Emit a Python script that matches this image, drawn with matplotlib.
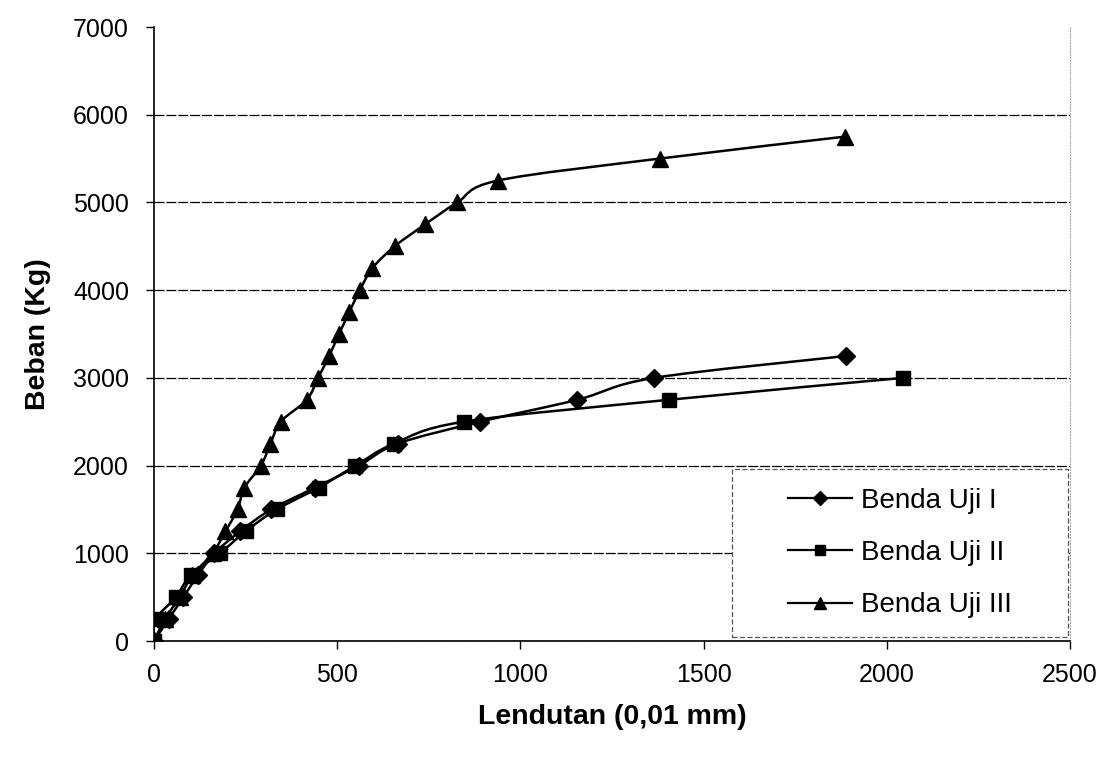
import matplotlib

matplotlib.use("Agg")
import matplotlib.pyplot as plt
import numpy as np
from matplotlib.lines import Line2D
from matplotlib.patches import PathPatch, Rectangle
from matplotlib.path import Path

plt.rcParams["font.family"] = ["Liberation Sans", "DejaVu Sans"]

# Benda Uji I (diamonds)
x1 = [0, 40, 80, 120, 165, 235, 320, 440, 560, 665, 890, 1155, 1365, 1890]
y1 = [0, 250, 500, 750, 1000, 1250, 1500, 1750, 2000, 2250, 2500, 2750, 3000, 3250]
# Benda Uji II (squares)
x2 = [0, 5, 60, 100, 180, 250, 335, 450, 550, 655, 845, 1405, 2045]
y2 = [0, 250, 500, 750, 1000, 1250, 1500, 1750, 2000, 2250, 2500, 2750, 3000]
# Benda Uji III (triangles)
x3 = [0, 30, 70, 105, 160, 195, 228, 247, 292, 318, 346, 417, 448, 478, 505,
      533, 562, 596, 657, 740, 828, 939, 1380, 1885]
y3 = [0, 250, 500, 750, 1000, 1250, 1500, 1750, 2000, 2250, 2500, 2750, 3000,
      3250, 3500, 3750, 4000, 4250, 4500, 4750, 5000, 5250, 5500, 5750]

labels = ["Benda Uji I", "Benda Uji II", "Benda Uji III"]
markers = ["D", "s", "^"]
msizes = [9, 10, 11]


def smooth_path(xs, ys):
    # Excel-style smoothed line: Catmull-Rom turned into cubic Bezier segments
    p = np.column_stack([xs, ys]).astype(float)
    ext = np.vstack([p[0], p, p[-1]])
    verts = [p[0]]
    codes = [Path.MOVETO]
    for i in range(len(p) - 1):
        p0, p1, p2, p3 = ext[i], ext[i + 1], ext[i + 2], ext[i + 3]
        verts += [p1 + (p2 - p0) / 6, p2 - (p3 - p1) / 6, p2]
        codes += [Path.CURVE4] * 3
    return Path(verts, codes)


fig = plt.figure(figsize=(11.11, 7.57), dpi=100)
ax = fig.add_axes([0.1386, 0.1532, 0.8244, 0.8111])

handles = []
for xs, ys, m, ms, lab in zip([x1, x2, x3], [y1, y2, y3], markers, msizes, labels):
    ax.add_patch(PathPatch(smooth_path(xs, ys), fill=False, edgecolor="black",
                           lw=1.8, zorder=3))
    ax.plot(xs, ys, ls="none", marker=m, ms=ms, color="black", zorder=4)
    handles.append(Line2D([], [], color="black", lw=1.6, marker=m, ms=ms * 0.75))

ax.set_xlim(0, 2500)
ax.set_ylim(0, 7000)
ax.set_xticks(np.arange(0, 2501, 500))
ax.set_yticks(np.arange(0, 7001, 1000))
ax.yaxis.grid(True, color="black", lw=0.9, ls=(0, (8, 1.5)))
ax.yaxis.get_gridlines()[-1].set_visible(False)
ax.set_axisbelow(True)

ax.spines["top"].set_visible(False)
ax.spines["right"].set_color("#aaaaaa")
ax.spines["right"].set_linestyle(":")
ax.spines["left"].set_linewidth(1.2)
ax.spines["bottom"].set_linewidth(1.2)
ax.tick_params(axis="both", direction="out", length=6, width=1, labelsize=18,
               colors="black")
ax.tick_params(axis="y", pad=12)
ax.tick_params(axis="x", pad=10)

ax.set_xlabel("Lendutan (0,01 mm)", fontsize=20.5, fontweight="bold", labelpad=12)
ax.set_ylabel("Beban (Kg)", fontsize=20.5, fontweight="bold", labelpad=16)

# legend box as drawn in the source (dashed frame, wider than the entries)
ax.add_patch(Rectangle((0.631, 0.0065), 0.367, 0.274, transform=ax.transAxes,
                       fill=True, facecolor="white", edgecolor="#555555",
                       lw=0.9, ls=(0, (4, 2)), zorder=5))
leg = ax.legend(handles, labels, loc="center", bbox_to_anchor=(0.8145, 0.1435),
                frameon=False, fontsize=20, handlelength=2.3, handletextpad=0.3,
                labelspacing=0.95)
leg.set_zorder(6)

fig.savefig("out.png", dpi=100)
